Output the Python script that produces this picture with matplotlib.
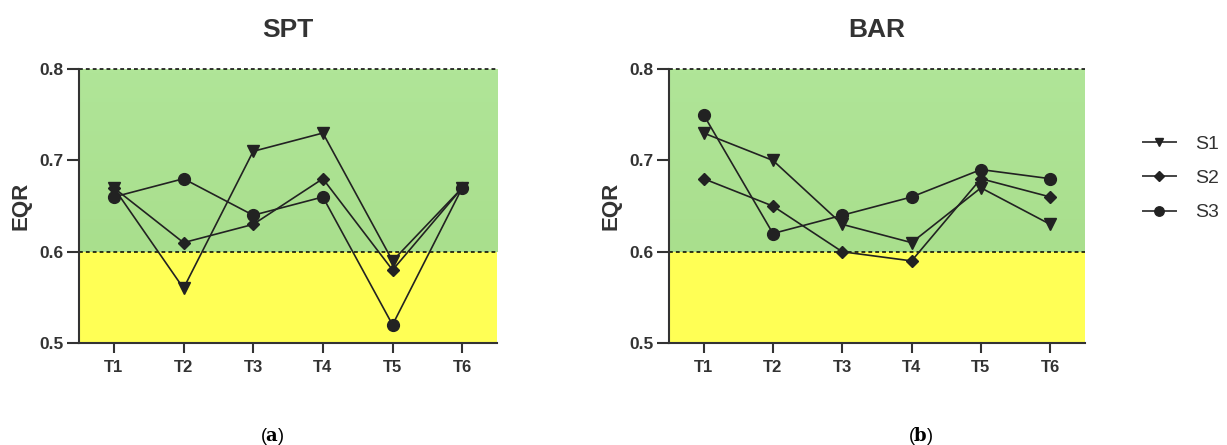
import numpy as np
import matplotlib
matplotlib.use("Agg")
import matplotlib.pyplot as plt
from matplotlib.lines import Line2D
from matplotlib.colors import LinearSegmentedColormap

plt.rcParams['font.family'] = ['Liberation Sans', 'DejaVu Sans']
plt.rcParams['mathtext.fontset'] = 'dejavuserif'

# Data
times = ["T1", "T2", "T3", "T4", "T5", "T6"]
series = ["S1", "S2", "S3"]
markers = ["v", "D", "o"]
msizes = [8, 6.5, 8.5]

spt_s1 = [0.67, 0.56, 0.71, 0.73, 0.59, 0.67]
spt_s2 = [0.67, 0.61, 0.63, 0.68, 0.58, 0.67]
spt_s3 = [0.66, 0.68, 0.64, 0.66, 0.52, 0.67]

bar_s1 = [0.73, 0.70, 0.63, 0.61, 0.67, 0.63]
bar_s2 = [0.68, 0.65, 0.60, 0.59, 0.68, 0.66]
bar_s3 = [0.75, 0.62, 0.64, 0.66, 0.69, 0.68]

good_min, good_max = 0.6, 0.8
ymin = 0.5

fig = plt.figure(figsize=(12.27, 4.45), dpi=100)
ax1 = fig.add_axes([0.0644, 0.229, 0.3407, 0.6157])
ax2 = fig.add_axes([0.5452, 0.229, 0.339, 0.6157])

green_cmap = LinearSegmentedColormap.from_list("g", ["#a9df8d", "#b0e598"])
x = np.arange(1, len(times) + 1)


def draw_panel(ax, title, data):
    ax.set_xlim(0.5, len(times) + 0.5)
    ax.set_ylim(ymin, good_max)
    # background bands
    grad = np.linspace(0, 1, 50).reshape(-1, 1)
    ax.imshow(grad, extent=[0.5, len(times) + 0.5, good_min, good_max],
              aspect='auto', origin='lower', cmap=green_cmap, zorder=0)
    ax.axhspan(ymin, good_min, color="#ffff55", zorder=0, lw=0)
    ax.axhline(good_min, color="black", ls=(0, (2.5, 2)), lw=1.1, zorder=1)
    ax.axhline(good_max, color="black", ls=(0, (2.5, 2)), lw=1.1, zorder=1, clip_on=False)

    for vals, m, ms in zip(data, markers, msizes):
        ax.plot(x, vals, color="#222222", lw=1.2, marker=m, ms=ms,
                markerfacecolor="#222222", markeredgecolor="#222222", zorder=3)

    ax.set_xticks(x)
    ax.set_xticklabels(times, fontweight="bold", fontsize=12, color="#333333")
    ax.set_yticks([0.5, 0.6, 0.7, 0.8])
    ax.set_yticklabels(["0.5", "0.6", "0.7", "0.8"], fontweight="bold", fontsize=12.5,
                       color="#333333")
    ax.tick_params(axis="y", length=9, width=1.5, color="#333333", pad=2)
    ax.tick_params(axis="x", length=7.5, width=1.5, color="#333333", pad=5)
    for s in ["top", "right"]:
        ax.spines[s].set_visible(False)
    for s in ["left", "bottom"]:
        ax.spines[s].set_linewidth(1.5)
        ax.spines[s].set_color("#333333")
    ax.set_ylabel("EQR", fontweight="bold", fontsize=16, color="#333333", labelpad=6)
    ax.set_title(title, fontweight="bold", fontsize=19, color="#333333", pad=23)


draw_panel(ax1, "SPT", [spt_s1, spt_s2, spt_s3])
draw_panel(ax2, "BAR", [bar_s1, bar_s2, bar_s3])

handles = [Line2D([0], [0], color="#444444", lw=1.4, marker=m, ms=ms * 0.8,
                  markerfacecolor="#222222", markeredgecolor="#222222")
           for m, ms in zip(markers, msizes)]
fig.legend(handles, series, loc="upper left", bbox_to_anchor=(0.917, 0.735),
           frameon=False, fontsize=14, handlelength=1.7, labelspacing=0.85,
           handletextpad=1.0, labelcolor="#333333")

fig.text(0.222, 0.01, r"($\mathbf{a}$)", fontsize=13, ha="center")
fig.text(0.750, 0.01, r"($\mathbf{b}$)", fontsize=13, ha="center")

fig.savefig("out.png", dpi=100)
